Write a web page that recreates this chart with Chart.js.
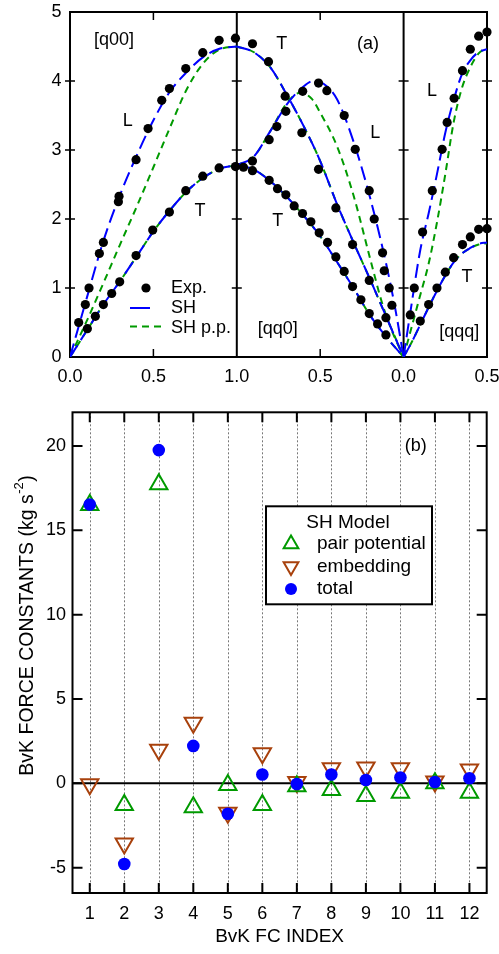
<!DOCTYPE html>
<html>
<head>
<meta charset="utf-8">
<script src="https://cdn.jsdelivr.net/npm/chart.js@4.4.1/dist/chart.umd.min.js"></script>
<style>
  html, body { margin: 0; padding: 0; background: #fff; }
  body { width: 499px; height: 954px; position: relative; overflow: hidden; }
  canvas { position: absolute; left: 0; }
  #chartA { top: 0; }
  #chartB { top: 395px; }
</style>
</head>
<body>
<canvas id="chartA" width="499" height="395"></canvas>
<canvas id="chartB" width="499" height="559"></canvas>
<script>
// ---------- panel (a): dispersion, x runs [q00] 0..1, [qq0] 1..0, [qqq] 0..0.5 ----------
const xTickValsA = [0, 0.5, 1, 1.5, 2, 2.5];
const xTickLabelsA = ['0.0', '0.5', '1.0', '0.5', '0.0', '0.5'];
const yTickValsA = [0, 1, 2, 3, 4, 5];
const segmentBreaks = [1, 2];

// measured points (position along path, frequency)
const expQ00L = [[0.052,0.50],[0.092,0.76],[0.114,1.00],[0.176,1.50],[0.200,1.66],[0.290,2.25],[0.294,2.33],[0.396,2.86],[0.468,3.31],[0.550,3.72],[0.596,3.89],[0.694,4.18],[0.796,4.41],[0.894,4.59],[0.992,4.62]];
const expQ00T = [[0.104,0.41],[0.152,0.59],[0.200,0.76],[0.250,0.92],[0.298,1.09],[0.396,1.47],[0.496,1.84],[0.596,2.10],[0.694,2.41],[0.796,2.62],[0.894,2.74],[0.992,2.76]];
const expQq0T1 = [[1.094,4.54],[1.190,4.28],[1.290,3.78],[1.390,3.25],[1.490,2.72],[1.594,2.16],[1.694,1.63],[1.794,1.11],[1.894,0.57]];
const expQq0L = [[1.094,2.84],[1.194,3.15],[1.240,3.34],[1.294,3.56],[1.395,3.85],[1.490,3.97],[1.540,3.86],[1.644,3.50],[1.710,3.01],[1.794,2.41],[1.824,2.00],[1.874,1.51],[1.884,1.25],[1.914,1.00],[1.930,0.75]];
const expQq0T2 = [[1.040,2.75],[1.094,2.70],[1.194,2.56],[1.244,2.44],[1.294,2.35],[1.344,2.19],[1.394,2.08],[1.444,1.96],[1.494,1.80],[1.544,1.66],[1.594,1.45],[1.644,1.24],[1.694,1.02],[1.744,0.83],[1.794,0.63],[1.844,0.48],[1.894,0.32]];
const expQqqL = [[2.040,0.61],[2.064,1.00],[2.114,1.81],[2.172,2.41],[2.231,3.01],[2.261,3.40],[2.303,3.75],[2.353,4.15],[2.400,4.46],[2.450,4.65],[2.500,4.71]];
const expQqqT = [[2.100,0.52],[2.150,0.76],[2.200,1.00],[2.250,1.23],[2.300,1.44],[2.353,1.63],[2.400,1.74],[2.450,1.85],[2.500,1.86]];

// SH model branches
const shQ00L = [[0,0],[0.1,0.85],[0.2,1.68],[0.3,2.35],[0.4,2.92],[0.5,3.43],[0.6,3.85],[0.7,4.13],[0.8,4.35],[0.9,4.47],[1.0,4.5]];
const shQ00T = [[0,0],[0.1,0.38],[0.2,0.76],[0.3,1.1],[0.4,1.46],[0.5,1.82],[0.6,2.13],[0.7,2.4],[0.8,2.6],[0.9,2.73],[1.0,2.78]];
const shQq0T1 = [[1.0,4.5],[1.1,4.42],[1.2,4.2],[1.3,3.8],[1.4,3.35],[1.5,2.84],[1.6,2.22],[1.7,1.66],[1.8,1.12],[1.9,0.56],[2.0,0]];
const shQq0L = [[1.0,2.78],[1.1,2.9],[1.2,3.27],[1.3,3.66],[1.4,3.92],[1.46,4.0],[1.52,3.96],[1.6,3.74],[1.7,3.12],[1.8,2.3],[1.9,1.3],[1.95,0.7],[2.0,0]];
const shQq0T2 = [[1.0,2.78],[1.1,2.72],[1.2,2.55],[1.3,2.32],[1.4,2.05],[1.5,1.75],[1.6,1.38],[1.7,1.0],[1.8,0.6],[1.9,0.28],[2.0,0]];
const shQqqL = [[2.0,0],[2.05,0.8],[2.1,1.55],[2.15,2.08],[2.2,2.65],[2.25,3.25],[2.3,3.72],[2.35,4.1],[2.4,4.3],[2.45,4.42],[2.5,4.46]];
const shQqqT = [[2.0,0],[2.05,0.22],[2.1,0.47],[2.15,0.72],[2.2,0.96],[2.25,1.18],[2.3,1.37],[2.35,1.5],[2.4,1.58],[2.45,1.64],[2.5,1.66]];

// SH pair-potential-only branches
const ppQ00L = [[0,0],[0.1,0.52],[0.2,1.07],[0.3,1.63],[0.4,2.18],[0.5,2.75],[0.6,3.33],[0.7,3.88],[0.8,4.26],[0.9,4.46],[1.0,4.5]];
const ppQ00T = [[0,0],[0.1,0.38],[0.2,0.76],[0.3,1.1],[0.4,1.46],[0.5,1.82],[0.6,2.13],[0.7,2.4],[0.8,2.6],[0.9,2.73],[1.0,2.78]];
const ppQq0T1 = [[1.0,4.5],[1.1,4.42],[1.2,4.2],[1.3,3.8],[1.4,3.35],[1.5,2.84],[1.6,2.22],[1.7,1.66],[1.8,1.12],[1.9,0.56],[2.0,0]];
const ppQq0L = [[1.0,2.78],[1.1,2.9],[1.2,3.27],[1.3,3.68],[1.38,3.83],[1.45,3.74],[1.5,3.54],[1.6,3.06],[1.7,2.34],[1.8,1.42],[1.87,0.79],[1.93,0.38],[2.0,0]];
const ppQq0T2 = [[1.0,2.78],[1.1,2.72],[1.2,2.55],[1.3,2.32],[1.4,2.05],[1.5,1.75],[1.6,1.38],[1.7,1.0],[1.8,0.6],[1.9,0.28],[2.0,0]];
const ppQqqL = [[2.0,0],[2.05,0.45],[2.1,0.9],[2.15,1.35],[2.2,1.95],[2.25,2.65],[2.3,3.4],[2.35,3.9],[2.4,4.2],[2.45,4.4],[2.5,4.48]];
const ppQqqT = [[2.0,0],[2.05,0.22],[2.1,0.47],[2.15,0.72],[2.2,0.96],[2.25,1.18],[2.3,1.37],[2.35,1.5],[2.4,1.58],[2.45,1.63],[2.5,1.65]];

// ---------- panel (b): BvK force constants ----------
const fcIndex = ['1','2','3','4','5','6','7','8','9','10','11','12'];
const yTickValsB = [-5, 0, 5, 10, 15, 20];
const pairPotential = [16.5, -1.28, 17.73, -1.41, -0.1, -1.28, -0.17, -0.39, -0.75, -0.56, 0.0, -0.56];
const embedding = [-0.05, -3.57, 1.99, 3.59, -1.74, 1.78, 0.08, 0.9, 0.94, 0.89, 0.11, 0.82];
const total = [16.53, -4.78, 19.76, 2.22, -1.8, 0.53, -0.04, 0.53, 0.2, 0.35, 0.08, 0.3];

const BLUE = '#0000ff';
const GREEN = '#009a00';
const BROWN = '#a8410c';
const FONT = '"Liberation Sans", Arial, Helvetica, sans-serif';

Chart.defaults.font.family = FONT;
Chart.defaults.color = '#000';

const toXY = arr => arr.map(p => ({ x: p[0], y: p[1] }));

// text written inside panel (a), placed in data units
const textMarksA = [
  ['[q00]', 0.264, 4.60], ['L', 0.346, 3.42], ['T', 0.78, 2.11],
  ['T', 1.27, 4.53], ['(a)', 1.786, 4.53], ['L', 1.83, 3.25],
  ['T', 1.246, 1.97], ['[qq0]', 1.246, 0.40],
  ['L', 2.17, 3.85], ['T', 2.38, 1.16], ['[qqq]', 2.334, 0.36]
];

const panelA = {
  id: 'panelA',
  beforeDatasetsDraw(chart) {
    const { ctx, chartArea: a, scales: { x, y } } = chart;
    ctx.save();
    ctx.strokeStyle = '#000';
    ctx.lineWidth = 2;
    ctx.strokeRect(a.left, a.top, a.right - a.left, a.bottom - a.top);
    ctx.beginPath();
    segmentBreaks.forEach(u => {
      const px = x.getPixelForValue(u);
      ctx.moveTo(px, a.top);
      ctx.lineTo(px, a.bottom);
    });
    ctx.stroke();
    // tick marks crossing the verticals
    ctx.lineWidth = 1.5;
    ctx.beginPath();
    [0, ...segmentBreaks, 2.5].forEach(u => {
      const px = x.getPixelForValue(u);
      yTickValsA.forEach(v => {
        if (v <= 0 || v >= 5) return;
        const py = y.getPixelForValue(v);
        ctx.moveTo(px - 5, py);
        ctx.lineTo(px + 5, py);
      });
    });
    [0.5, 1.5].forEach(u => {
      const px = x.getPixelForValue(u);
      ctx.moveTo(px, a.top);
      ctx.lineTo(px, a.top + 8);
      ctx.moveTo(px, a.bottom);
      ctx.lineTo(px, a.bottom - 8);
    });
    ctx.stroke();
    ctx.restore();
  },
  afterDatasetsDraw(chart) {
    const { ctx, chartArea: a, scales: { x, y } } = chart;
    ctx.save();
    ctx.fillStyle = '#000';
    ctx.font = '18px ' + FONT;
    ctx.textAlign = 'center';
    ctx.textBaseline = 'middle';
    textMarksA.forEach(t => ctx.fillText(t[0], x.getPixelForValue(t[1]), y.getPixelForValue(t[2])));

    // legend
    const lx = a.left + 60, ly = y.getPixelForValue(1.0);
    ctx.beginPath();
    ctx.arc(lx + 16, ly, 4.6, 0, Math.PI * 2);
    ctx.fill();
    ctx.lineWidth = 2;
    ctx.strokeStyle = BLUE;
    ctx.beginPath();
    ctx.moveTo(lx, ly + 20);
    ctx.lineTo(lx + 20, ly + 20);
    ctx.stroke();
    ctx.strokeStyle = GREEN;
    ctx.setLineDash([7, 5]);
    ctx.beginPath();
    ctx.moveTo(lx, ly + 38.5);
    ctx.lineTo(lx + 33, ly + 38.5);
    ctx.stroke();
    ctx.setLineDash([]);
    ctx.textAlign = 'left';
    ctx.font = '18px ' + FONT;
    ctx.fillText('Exp.', lx + 41, ly);
    ctx.fillText('SH', lx + 41, ly + 20);
    ctx.fillText('SH p.p.', lx + 41, ly + 40);
    ctx.restore();
  }
};

const datasetsA = [{
  label: 'Exp.',
  data: toXY([].concat(expQ00L, expQ00T, expQq0T1, expQq0L, expQq0T2, expQqqL, expQqqT)),
  showLine: false,
  pointRadius: 4.6,
  pointBackgroundColor: '#000',
  pointBorderWidth: 0,
  clip: false,
  order: 0
}];
[shQ00L, shQ00T, shQq0T1, shQq0L, shQq0T2, shQqqL, shQqqT].forEach(b => datasetsA.push({
  label: 'SH', data: toXY(b), showLine: true, borderColor: BLUE, borderWidth: 2,
  borderDash: [14, 6], pointRadius: 0, cubicInterpolationMode: 'monotone', order: 1
}));
[ppQ00L, ppQ00T, ppQq0T1, ppQq0L, ppQq0T2, ppQqqL, ppQqqT].forEach(b => datasetsA.push({
  label: 'SH p.p.', data: toXY(b), showLine: true, borderColor: GREEN, borderWidth: 2,
  borderDash: [7, 5], pointRadius: 0, cubicInterpolationMode: 'monotone', order: 2
}));

const noGrid = { display: false, drawTicks: false, tickLength: 0 };

new Chart(document.getElementById('chartA'), {
  type: 'scatter',
  data: { datasets: datasetsA },
  options: {
    responsive: false,
    animation: false,
    events: [],
    layout: { padding: { left: 0, right: 12, top: 12, bottom: 0 } },
    plugins: { legend: { display: false }, tooltip: { enabled: false } },
    scales: {
      x: {
        type: 'linear', min: 0, max: 2.5,
        grid: noGrid, border: { display: false },
        afterBuildTicks: s => { s.ticks = xTickValsA.map(v => ({ value: v })); },
        // keep the last label from squeezing the plot area
        afterFit: s => { s.height = 38; s.paddingLeft = 0; s.paddingRight = 0; },
        ticks: { font: { size: 18 }, padding: 9.5, maxRotation: 0, autoSkip: false, callback: (v, i) => xTickLabelsA[i] }
      },
      y: {
        type: 'linear', min: 0, max: 5,
        grid: noGrid, border: { display: false },
        afterBuildTicks: s => { s.ticks = yTickValsA.map(v => ({ value: v })); },
        afterFit: s => { s.width = 70; s.paddingTop = 0; s.paddingBottom = 0; },
        ticks: { font: { size: 18 }, padding: 8.5 }
      }
    }
  },
  plugins: [panelA]
});

// ---------- panel (b) ----------
const legendB = [
  { text: 'pair potential', style: 'triangle', rotation: 0, color: GREEN, fill: false, r: 8.5 },
  { text: 'embedding', style: 'triangle', rotation: 180, color: BROWN, fill: false, r: 8.5 },
  { text: 'total', style: 'circle', rotation: 0, color: BLUE, fill: true, r: 6 }
];

const panelB = {
  id: 'panelB',
  beforeDatasetsDraw(chart) {
    const { ctx, chartArea: a, scales: { x, y } } = chart;
    ctx.save();
    // dotted verticals
    ctx.strokeStyle = '#777';
    ctx.lineWidth = 1;
    ctx.setLineDash([2, 2]);
    ctx.beginPath();
    fcIndex.forEach((lab, i) => {
      const px = Math.round(x.getPixelForValue(i)) + 0.5;
      ctx.moveTo(px, a.top);
      ctx.lineTo(px, a.bottom);
    });
    ctx.stroke();
    ctx.setLineDash([]);
    // zero line
    ctx.strokeStyle = '#000';
    ctx.lineWidth = 2;
    ctx.beginPath();
    ctx.moveTo(a.left, y.getPixelForValue(0));
    ctx.lineTo(a.right, y.getPixelForValue(0));
    ctx.stroke();
    // frame + inward ticks
    ctx.strokeRect(a.left, a.top, a.right - a.left, a.bottom - a.top);
    ctx.beginPath();
    yTickValsB.forEach(v => {
      const py = y.getPixelForValue(v);
      ctx.moveTo(a.left, py); ctx.lineTo(a.left + 10, py);
      ctx.moveTo(a.right, py); ctx.lineTo(a.right - 10, py);
    });
    fcIndex.forEach((lab, i) => {
      const px = x.getPixelForValue(i);
      ctx.moveTo(px, a.top); ctx.lineTo(px, a.top + 10);
      ctx.moveTo(px, a.bottom); ctx.lineTo(px, a.bottom - 10);
    });
    ctx.stroke();
    ctx.restore();
  },
  afterDatasetsDraw(chart) {
    const { ctx, chartArea: a } = chart;
    ctx.save();
    ctx.fillStyle = '#000';
    ctx.font = '18px ' + FONT;
    ctx.textAlign = 'center';
    ctx.textBaseline = 'middle';
    ctx.fillText('(b)', a.right - 71, a.top + 34);

    // legend box
    const bx = a.left + 193.5, by = a.top + 94, bw = 166, bh = 98;
    ctx.fillStyle = '#fff';
    ctx.fillRect(bx, by, bw, bh);
    ctx.strokeStyle = '#000';
    ctx.lineWidth = 2;
    ctx.strokeRect(bx, by, bw, bh);
    ctx.fillStyle = '#000';
    ctx.font = '19px ' + FONT;
    ctx.fillText('SH Model', bx + 82, by + 16);
    ctx.textAlign = 'left';
    legendB.forEach((item, i) => {
      const ry = by + 37.7 + i * 22.5;
      ctx.strokeStyle = item.color;
      ctx.fillStyle = item.fill ? item.color : 'rgba(0,0,0,0)';
      ctx.lineWidth = 2;
      Chart.helpers.drawPoint(ctx, { pointStyle: item.style, rotation: item.rotation, radius: item.r, borderWidth: item.fill ? 0 : 2 }, bx + 25, ry);
      ctx.fillStyle = '#000';
      ctx.fillText(item.text, bx + 51, ry);
    });

    // y title with superscript
    const cx = 28, cy = 231;
    ctx.translate(cx, cy);
    ctx.rotate(-Math.PI / 2);
    ctx.font = '19.5px ' + FONT;
    const p1 = 'BvK FORCE CONSTANTS (kg s', p3 = ')';
    const w1 = ctx.measureText(p1).width, w3 = ctx.measureText(p3).width;
    ctx.font = '13px ' + FONT;
    const w2 = ctx.measureText('-2').width;
    let sx = -(w1 + w2 + w3) / 2;
    ctx.font = '19.5px ' + FONT;
    ctx.fillText(p1, sx, 0);
    ctx.font = '13px ' + FONT;
    ctx.fillText('-2', sx + w1 + 0.5, -9);
    ctx.font = '19.5px ' + FONT;
    ctx.fillText(p3, sx + w1 + w2 + 1, 0);
    ctx.restore();
  }
};

new Chart(document.getElementById('chartB'), {
  type: 'line',
  data: {
    labels: fcIndex,
    datasets: [
      { label: 'pair potential', data: pairPotential, showLine: false, pointStyle: 'triangle', pointRadius: 10,
        pointBorderColor: GREEN, pointBackgroundColor: 'rgba(0,0,0,0)', pointBorderWidth: 2, order: 1 },
      { label: 'embedding', data: embedding, showLine: false, pointStyle: 'triangle', pointRotation: 180, pointRadius: 10,
        pointBorderColor: BROWN, pointBackgroundColor: 'rgba(0,0,0,0)', pointBorderWidth: 2, order: 2 },
      { label: 'total', data: total, showLine: false, pointStyle: 'circle', pointRadius: 6.3,
        pointBorderColor: BLUE, pointBackgroundColor: BLUE, pointBorderWidth: 0, order: 0 }
    ]
  },
  options: {
    responsive: false,
    animation: false,
    events: [],
    layout: { padding: { left: 0, right: 12.3, top: 15, bottom: 0 } },
    plugins: { legend: { display: false }, tooltip: { enabled: false } },
    scales: {
      x: {
        type: 'category', offset: true,
        grid: noGrid, border: { display: false },
        afterFit: s => { s.height = 61; },
        ticks: { font: { size: 18 }, padding: 10.5, maxRotation: 0, autoSkip: false },
        title: { display: true, text: 'BvK FC INDEX', font: { size: 19 }, padding: { top: 2, bottom: 6 } }
      },
      y: {
        type: 'linear', min: -6.5, max: 22,
        grid: noGrid, border: { display: false },
        afterBuildTicks: s => { s.ticks = yTickValsB.map(v => ({ value: v })); },
        afterFit: s => { s.width = 72.5; },
        ticks: { font: { size: 18 }, padding: 6.5 }
      }
    }
  },
  plugins: [panelB]
});
</script>
</body>
</html>
